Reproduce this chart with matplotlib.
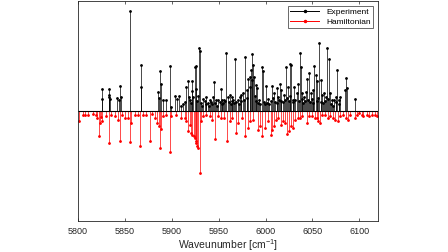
import matplotlib.pyplot as plt
from matplotlib.lines import Line2D

# experiment line positions (cm^-1) and intensities (arb. units)
exp_wn = [5825.6, 5825.9, 5833.0, 5833.3, 5833.6, 5833.9, 5842.0, 5843.4, 5845.0, 5845.5,
          5855.5, 5867.0, 5867.3, 5885.1, 5886.1, 5887.9, 5889.0, 5890.7, 5893.6, 5898.6,
          5899.6, 5903.6, 5905.7, 5907.5, 5910.3, 5912.5, 5914.0, 5915.6, 5917.1, 5918.5,
          5919.9, 5920.8, 5921.5, 5922.0, 5923.1, 5924.9, 5925.6, 5926.3, 5927.2, 5928.1,
          5929.2, 5930.2, 5931.5, 5932.2, 5933.4, 5935.2, 5936.0, 5937.0, 5938.5, 5939.5,
          5940.6, 5942.0, 5943.0, 5944.1, 5945.5, 5946.5, 5947.6, 5948.7, 5949.8, 5951.0,
          5952.3, 5953.2, 5954.0, 5955.0, 5956.2, 5957.0, 5958.0, 5959.8, 5960.8, 5961.9,
          5962.8, 5963.7, 5964.6, 5965.5, 5966.5, 5967.9, 5969.0, 5970.1, 5971.4, 5972.6,
          5973.4, 5974.3, 5975.8, 5977.0, 5978.0, 5979.7, 5980.6, 5981.5, 5982.9, 5983.6,
          5984.4, 5985.2, 5985.8, 5986.8, 5987.9, 5988.6, 5989.3, 5990.2, 5991.1, 5992.1,
          5993.2, 5994.5, 5995.7, 5996.8, 5998.0, 5999.0, 6000.0, 6001.5, 6002.8, 6004.0,
          6005.3, 6006.4, 6007.8, 6009.2, 6010.3, 6011.7, 6012.6, 6013.5, 6014.4, 6015.3,
          6016.1, 6017.0, 6018.1, 6019.2, 6020.3, 6021.7, 6022.6, 6023.4, 6024.5, 6025.6,
          6026.3, 6027.1, 6028.8, 6029.7, 6030.6, 6031.8, 6033.1, 6034.5, 6035.4, 6036.3,
          6037.8, 6038.5, 6039.1, 6040.2, 6041.3, 6042.2, 6043.1, 6044.5, 6045.4, 6046.3,
          6047.1, 6048.0, 6049.0, 6050.1, 6051.0, 6052.0, 6053.8, 6054.5, 6055.2, 6056.1,
          6057.0, 6058.7, 6059.6, 6060.5, 6061.4, 6062.3, 6063.2, 6064.0, 6065.8, 6066.5,
          6067.2, 6068.7, 6069.7, 6070.8, 6072.0, 6073.0, 6074.7, 6075.5, 6076.2, 6077.9,
          6078.6, 6079.4, 6084.7, 6085.8, 6087.2, 6095.4]
exp_int = [0.20, 0.11, 0.20, 0.15, 0.13, 0.11, 0.12, 0.10, 0.23, 0.13,
           0.91, 0.42, 0.22, 0.17, 0.12, 0.36, 0.25, 0.10, 0.10, 0.41,
           0.04, 0.14, 0.11, 0.14, 0.05, 0.06, 0.08, 0.22, 0.27, 0.13,
           0.10, 0.07, 0.18, 0.27, 0.13, 0.40, 0.20, 0.41, 0.09, 0.14,
           0.57, 0.55, 0.07, 0.05, 0.11, 0.09, 0.06, 0.13, 0.07, 0.05,
           0.10, 0.08, 0.06, 0.13, 0.26, 0.07, 0.10, 0.05, 0.10, 0.08,
           0.20, 0.06, 0.10, 0.07, 0.10, 0.09, 0.53, 0.13, 0.08, 0.15,
           0.06, 0.13, 0.09, 0.10, 0.07, 0.47, 0.08, 0.10, 0.06, 0.13,
           0.09, 0.15, 0.16, 0.10, 0.49, 0.19, 0.12, 0.29, 0.31, 0.22,
           0.37, 0.28, 0.52, 0.42, 0.31, 0.14, 0.24, 0.09, 0.21, 0.07,
           0.10, 0.06, 0.40, 0.36, 0.08, 0.06, 0.23, 0.07, 0.11, 0.06,
           0.09, 0.23, 0.12, 0.16, 0.08, 0.21, 0.07, 0.13, 0.10, 0.25,
           0.09, 0.19, 0.08, 0.15, 0.10, 0.40, 0.12, 0.22, 0.09, 0.43,
           0.14, 0.42, 0.10, 0.08, 0.22, 0.10, 0.16, 0.25, 0.09, 0.53,
           0.40, 0.11, 0.16, 0.07, 0.13, 0.09, 0.17, 0.29, 0.10, 0.35,
           0.08, 0.16, 0.11, 0.19, 0.07, 0.41, 0.33, 0.09, 0.27, 0.12,
           0.62, 0.28, 0.08, 0.15, 0.07, 0.16, 0.09, 0.13, 0.57, 0.11,
           0.47, 0.16, 0.06, 0.10, 0.05, 0.10, 0.13, 0.08, 0.37, 0.10,
           0.06, 0.13, 0.19, 0.30, 0.21, 0.11]

# hamiltonian (calculated) lines, drawn downwards
ham_wn = [5801.1, 5805.3, 5807.1, 5810.7, 5816.0, 5819.6, 5820.6, 5822.1, 5823.1, 5824.2,
          5825.6, 5830.3, 5833.1, 5835.6, 5839.9, 5842.7, 5844.8, 5847.3, 5849.8, 5853.4,
          5855.9, 5856.9, 5860.5, 5864.1, 5866.6, 5869.4, 5873.0, 5876.9, 5879.0, 5881.9,
          5884.3, 5886.1, 5887.9, 5889.0, 5890.7, 5894.3, 5897.9, 5899.6, 5905.0, 5910.3,
          5913.9, 5915.7, 5917.4, 5919.2, 5921.0, 5922.1, 5923.5, 5924.6, 5925.6, 5926.3,
          5927.4, 5928.5, 5929.9, 5931.0, 5933.5, 5937.0, 5940.6, 5943.4, 5946.3, 5949.5,
          5953.0, 5955.5, 5958.4, 5961.9, 5964.4, 5968.0, 5970.8, 5974.4, 5977.9, 5981.5,
          5983.3, 5986.8, 5991.5, 5993.9, 5996.4, 5999.3, 6002.1, 6005.3, 6007.1, 6009.3,
          6011.0, 6013.5, 6016.0, 6018.9, 6020.6, 6023.1, 6025.3, 6027.1, 6028.8, 6031.3,
          6034.2, 6036.3, 6038.4, 6044.5, 6046.6, 6049.1, 6052.7, 6054.4, 6056.2, 6058.0,
          6059.8, 6063.3, 6066.9, 6068.7, 6071.5, 6074.0, 6076.9, 6079.4, 6082.2, 6085.8,
          6087.5, 6090.0, 6095.4, 6097.1, 6100.0, 6102.5, 6104.3, 6107.8, 6110.7, 6113.2,
          6116.7, 6119.2]
ham_int = [-0.094, -0.033, -0.033, -0.033, -0.027, -0.040, -0.060, -0.230, -0.109, -0.050,
           -0.094, -0.048, -0.290, -0.033, -0.048, -0.079, -0.276, -0.033, -0.064, -0.064,
           -0.285, -0.109, -0.033, -0.033, -0.320, -0.033, -0.033, -0.270, -0.027, -0.064,
           -0.109, -0.140, -0.336, -0.160, -0.048, -0.033, -0.376, -0.048, -0.033, -0.064,
           -0.064, -0.094, -0.180, -0.124, -0.200, -0.215, -0.230, -0.245, -0.276, -0.290,
           -0.320, -0.336, -0.564, -0.094, -0.048, -0.033, -0.048, -0.079, -0.250, -0.048,
           -0.064, -0.064, -0.276, -0.094, -0.064, -0.200, -0.109, -0.064, -0.230, -0.155,
           -0.094, -0.079, -0.170, -0.139, -0.230, -0.155, -0.094, -0.221, -0.170, -0.139,
           -0.079, -0.064, -0.124, -0.094, -0.109, -0.209, -0.185, -0.139, -0.155, -0.079,
           -0.064, -0.064, -0.048, -0.109, -0.048, -0.048, -0.064, -0.064, -0.094, -0.109,
           -0.033, -0.033, -0.064, -0.048, -0.064, -0.079, -0.094, -0.048, -0.033, -0.064,
           -0.079, -0.033, -0.064, -0.033, -0.018, -0.033, -0.048, -0.033, -0.048, -0.033,
           -0.033, -0.048]

plt.rcParams['font.family'] = ['Liberation Sans', 'DejaVu Sans']
plt.rcParams['mathtext.fontset'] = 'custom'
plt.rcParams['mathtext.rm'] = 'Liberation Sans'

fig = plt.figure(figsize=(4.48, 2.52), dpi=100)
ax = fig.add_axes([0.174, 0.123, 0.670, 0.873])

def draw_stems(x, y, col):
    m, s, b = ax.stem(x, y, linefmt='-', markerfmt='.', basefmt=' ')
    s.set_color(col)
    s.set_linewidth(0.5)
    m.set_color(col)
    m.set_markersize(2)

draw_stems(exp_wn, exp_int, 'black')
draw_stems(ham_wn, ham_int, 'red')
ax.axhline(0, color='black', lw=0.8)

ax.set_xlim(5800, 6120)
ax.set_ylim(-1, 1)
ax.set_yticks([])
ax.set_xticks([5800, 5850, 5900, 5950, 6000, 6050, 6100])
ax.tick_params(axis='x', direction='in', top=True, length=2.5, width=0.5,
               labelsize=6.5, colors='#262626', pad=4)
for sp in ax.spines.values():
    sp.set_color('#262626')
    sp.set_linewidth(0.6)
ax.set_xlabel('Waveunumber [cm$^{-1}$]', fontsize=7.5, labelpad=1, color='#262626')

handles = [Line2D([0], [0], color='black', lw=0.7, marker='.', markersize=3),
           Line2D([0], [0], color='red', lw=0.7, marker='.', markersize=3)]
leg = ax.legend(handles, ['Experiment', 'Hamiltonian'], loc='upper right',
                fontsize=6, frameon=True, fancybox=False, borderpad=0.3,
                handlelength=3.5, labelspacing=0.2, borderaxespad=0.6)
leg.get_frame().set_edgecolor('#262626')
leg.get_frame().set_linewidth(0.6)

fig.savefig('out.png', dpi=100)
